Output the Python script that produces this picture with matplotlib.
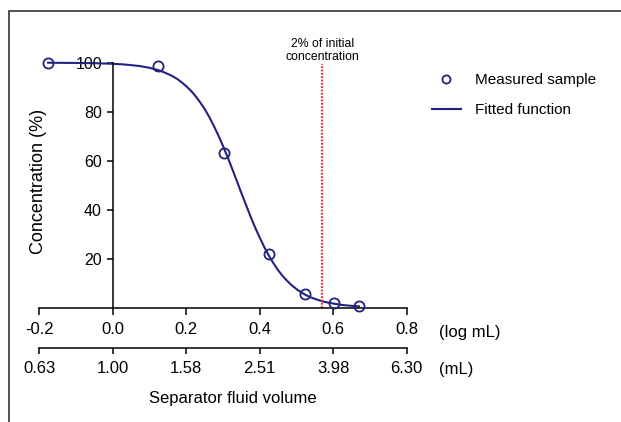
import matplotlib
matplotlib.use("Agg")
import matplotlib.pyplot as plt
from matplotlib.patches import Rectangle

plt.rcParams["font.family"] = ["Liberation Sans", "DejaVu Sans"]

NAVY = "#23237B"
RED = "#F0302C"

# measured samples (log mL, % of initial concentration)
log_volume = [-0.176, 0.124, 0.304, 0.426, 0.523, 0.603, 0.670]
concentration = [100.0, 98.8, 63.3, 21.8, 5.5, 1.8, 0.8]

# fitted curve
fit_x = [-0.176, -0.15, -0.10, -0.05, 0.0, 0.025, 0.05, 0.075, 0.10, 0.1125,
         0.125, 0.1375, 0.15, 0.1625, 0.175, 0.1875, 0.20, 0.2125, 0.225, 0.2375,
         0.25, 0.2625, 0.275, 0.2875, 0.30, 0.3125, 0.325, 0.3375, 0.35, 0.3625,
         0.375, 0.3875, 0.40, 0.4125, 0.425, 0.4375, 0.45, 0.4625, 0.475, 0.4875,
         0.50, 0.5125, 0.525, 0.5375, 0.55, 0.575, 0.60, 0.625, 0.65, 0.670]
fit_y = [100.0, 99.95, 99.9, 99.8, 99.55, 99.35, 99.0, 98.6, 97.9, 97.4,
         96.9, 96.2, 95.4, 94.5, 93.4, 92.0, 90.4, 88.6, 86.4, 83.9,
         81.1, 77.9, 74.2, 70.3, 66.0, 61.5, 56.7, 51.8, 46.8, 42.0,
         37.2, 32.7, 28.6, 24.7, 21.2, 18.1, 15.3, 12.9, 10.9, 9.1,
         7.6, 6.3, 5.2, 4.3, 3.6, 2.4, 1.7, 1.1, 0.76, 0.56]

cutoff_log = 0.570

x_ticks = [-0.2, 0.0, 0.2, 0.4, 0.6, 0.8]
log_labels = ["-0.2", "0.0", "0.2", "0.4", "0.6", "0.8"]
ml_labels = ["0.63", "1.00", "1.58", "2.51", "3.98", "6.30"]
y_ticks = [20, 40, 60, 80, 100]

W, H = 621, 422
fig = plt.figure(figsize=(W / 100, H / 100), dpi=100)
ax = fig.add_axes([39.3 / W, 1 - 307.7 / H, 367.4 / W, 245 / H])

ax.plot(fit_x, fit_y, color=NAVY, lw=1.5, label="Fitted function", clip_on=False)
ax.plot(log_volume, concentration, "o", ms=7.3, mfc="none", mec=NAVY, mew=1.3,
        label="Measured sample", clip_on=False, zorder=3)
ax.plot([cutoff_log, cutoff_log], [0, 99.5], color=RED, lw=1.6,
        linestyle=(0, (0.8, 0.7)), clip_on=False)
ax.text(cutoff_log, 99.8, "2% of initial\nconcentration", ha="center", va="bottom",
        fontsize=8.8, linespacing=1.1)

ax.set_xlim(-0.2, 0.8)
ax.set_ylim(0, 100)
for s in ("top", "right"):
    ax.spines[s].set_visible(False)
ax.spines["left"].set_position(("data", 0))
for s in ("left", "bottom"):
    ax.spines[s].set_linewidth(1.1)

ax.set_xticks(x_ticks)
ax.set_xticklabels(log_labels)
ax.set_yticks(y_ticks)
ax.tick_params(axis="x", length=5, width=1.1, pad=5.5, labelsize=12)
ax.tick_params(axis="y", length=4.3, width=1.1, pad=3.5, labelsize=11.5)
ax.set_ylabel("Concentration (%)", fontsize=13)
ax.yaxis.set_label_coords(0.02, 0.514)

# second scale in mL
sec = ax.secondary_xaxis(-0.166)
sec.set_xticks(x_ticks)
sec.set_xticklabels(ml_labels)
sec.spines["bottom"].set_linewidth(1.1)
sec.tick_params(axis="x", length=4.3, width=1.1, pad=5, labelsize=12)

fig.text(439.3 / W, 1 - 332.3 / H, "(log mL)", ha="left", va="center", fontsize=12)
fig.text(439.3 / W, 1 - 369.3 / H, "(mL)", ha="left", va="center", fontsize=12)
fig.text(233 / W, 1 - 398.3 / H, "Separator fluid volume", ha="center", va="center",
         fontsize=12)

handles, labels = ax.get_legend_handles_labels()
ax.legend(handles[::-1], labels[::-1], loc="upper left",
          bbox_to_anchor=(431.7 / W, 1 - 73 / H), bbox_transform=fig.transFigure,
          frameon=False, fontsize=11, handlelength=1.9, handletextpad=0.94,
          labelspacing=1.05, borderpad=0, borderaxespad=0, markerscale=0.8)

fig.patches.append(Rectangle((9 / W, -0.2), 1.2, 1.2 - 10.7 / H, transform=fig.transFigure,
                             fill=False, lw=1.1, ec="#222222"))

fig.savefig("out.png", dpi=100)
